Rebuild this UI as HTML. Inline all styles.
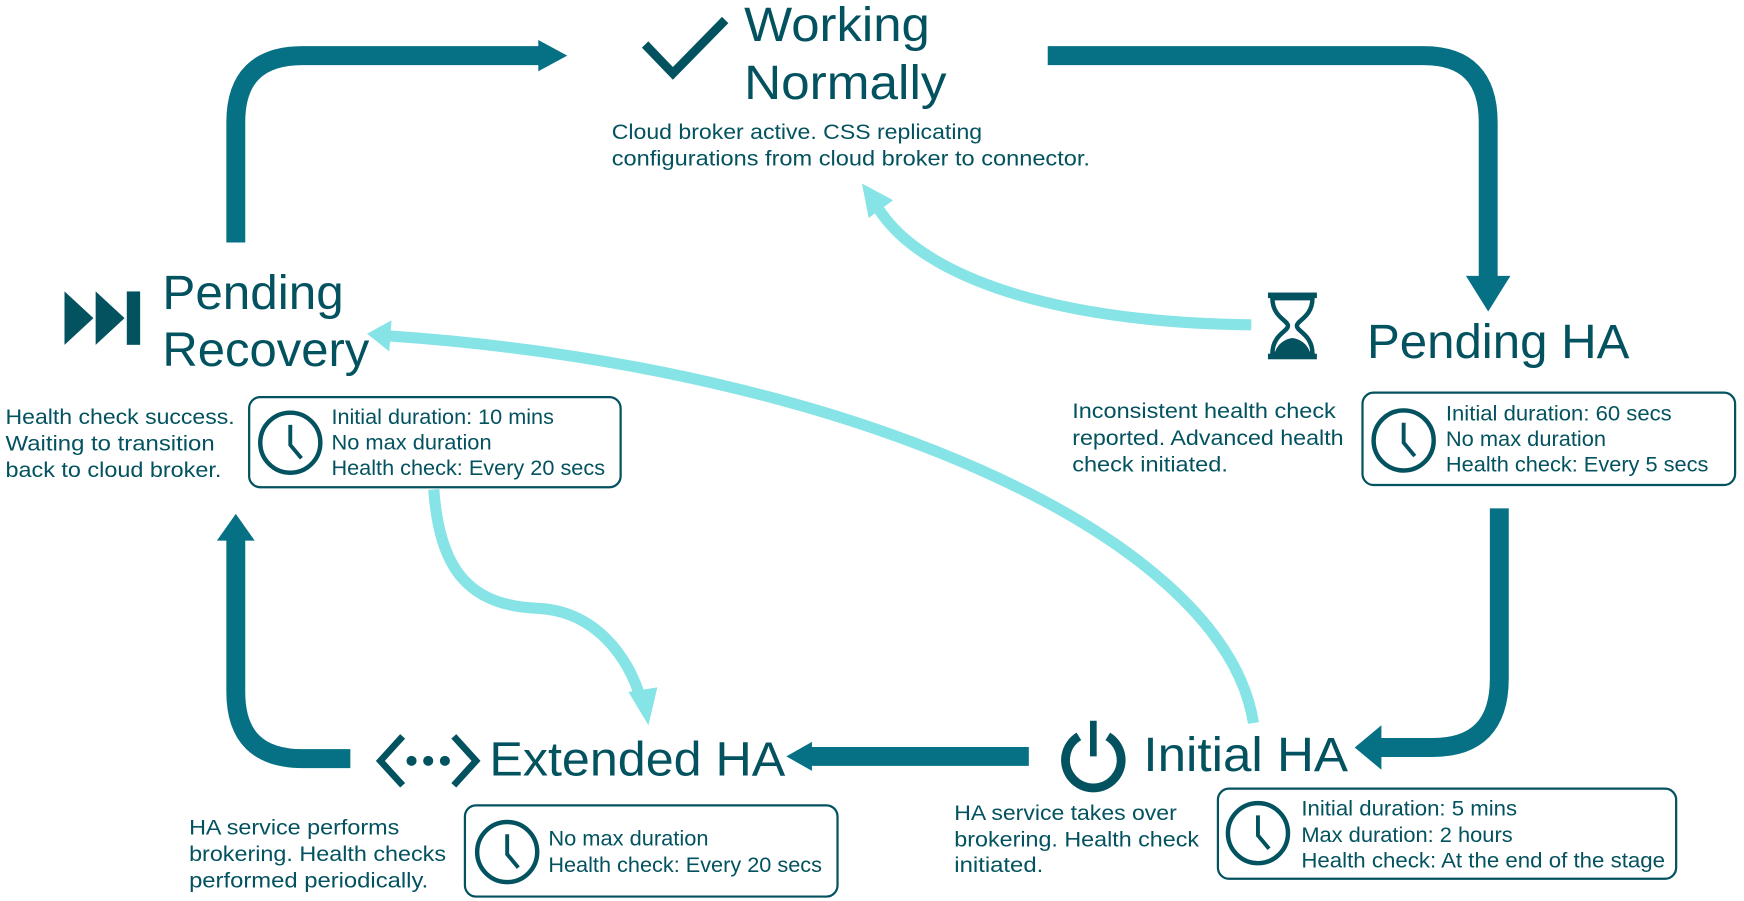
<!DOCTYPE html>
<html><head><meta charset="utf-8"><style>
html,body{margin:0;padding:0;background:#fff;}
svg{display:block}
text{font-family:"Liberation Sans",sans-serif;fill:#03525f}
.t{font-size:43px}
.b{font-size:19.5px}
</style></head><body>
<svg width="1744" height="901" viewBox="0 0 1568 810" preserveAspectRatio="none" xmlns="http://www.w3.org/2000/svg">
<rect width="1568" height="810" fill="#fff"/>
<g fill="none" stroke="#067185" stroke-width="17">
<path d="M212,218 L212,110 Q212,50 272,50 L488,50"/>
<path d="M942,50 L1280,50 Q1338,50 1338,110 L1338,250"/>
<path d="M1348,457 L1348,610 Q1348,672 1288,672 L1240,672"/>
<path d="M925,680 L728,680"/>
<path d="M315,682 L272,682 Q212,682 212,622 L212,482"/>
</g>
<g fill="#067185">
<polygon points="484,36 510,50 484,64"/>
<polygon points="1318,248 1358,248 1338,280"/>
<polygon points="1242,652 1242,692 1218,672"/>
<polygon points="730,667 730,693 707,680"/>
<polygon points="195,486 229,486 212,462"/>
</g>
<g fill="none" stroke="#86e3e6" stroke-width="10">
<path d="M1125,292 C950,290 830,250 790,188"/>
<path d="M1127,650 C1100,480 760,330 350,302"/>
<path d="M390,440 C395,510 420,545 485,547 C535,550 565,590 576,628"/>
</g>
<g fill="#86e3e6">
<polygon points="775,165 803,180 781,196"/>
<polygon points="330,300 352,288 350,316"/>
<polygon points="583,652 565,622 591,618"/>
</g>
<polyline points="580,40 605,66 652,18" fill="none" stroke="#03525f" stroke-width="8"/>
<g fill="#03525f">
<polygon points="58,262 84,286 58,310"/>
<polygon points="86,262 112,286 86,310"/>
<rect x="114" y="262" width="12" height="48"/>
</g>
<g>
<rect x="1140" y="263" width="44" height="5" fill="#03525f"/>
<rect x="1140" y="318" width="44" height="5" fill="#03525f"/>
<path d="M1144,268 C1144,285 1158,288 1158,293 C1158,298 1144,301 1144,318 L1180,318 C1180,301 1166,298 1166,293 C1166,288 1180,285 1180,268 Z" fill="#fff" stroke="#03525f" stroke-width="4"/>
<path d="M1146,318 C1148,308 1158,304 1162,304 C1166,304 1176,308 1178,318 Z" fill="#03525f"/>
</g>
<g fill="none" stroke="#03525f" stroke-width="8">
<path d="M970,662 A25,25 0 1 0 996,662"/>
<line x1="983" y1="648" x2="983" y2="680" stroke-width="6"/>
<polyline points="362,662 342,684 362,706" stroke-width="6"/>
<polyline points="408,662 428,684 408,706" stroke-width="6"/>
</g>
<g fill="#03525f"><circle cx="370" cy="684" r="4.5"/><circle cx="385" cy="684" r="4.5"/><circle cx="400" cy="684" r="4.5"/></g>
<g fill="none" stroke="#03525f" stroke-width="2">
<rect x="224" y="357" width="334" height="81" rx="10"/>
<rect x="1225" y="353" width="335" height="83" rx="10"/>
<rect x="1095" y="709" width="412" height="81" rx="10"/>
<rect x="418" y="724" width="335" height="82" rx="10"/>
</g>
<g fill="none" stroke="#03525f" stroke-width="4">
<g transform="translate(261,398)"><circle r="27"/><polyline points="0,-16 0,2 10,14" stroke-width="3.5"/></g>
<g transform="translate(1262,396)"><circle r="27"/><polyline points="0,-16 0,2 10,14" stroke-width="3.5"/></g>
<g transform="translate(1131,749)"><circle r="27"/><polyline points="0,-16 0,2 10,14" stroke-width="3.5"/></g>
<g transform="translate(456,766)"><circle r="27"/><polyline points="0,-16 0,2 10,14" stroke-width="3.5"/></g>
</g>
<text class="t" x="669" y="37" textLength="167" lengthAdjust="spacingAndGlyphs">Working</text>
<text class="t" x="669" y="89" textLength="182" lengthAdjust="spacingAndGlyphs">Normally</text>
<text class="t" x="146" y="278" textLength="163" lengthAdjust="spacingAndGlyphs">Pending</text>
<text class="t" x="146" y="329" textLength="186" lengthAdjust="spacingAndGlyphs">Recovery</text>
<text class="t" x="1229" y="322" textLength="236" lengthAdjust="spacingAndGlyphs">Pending HA</text>
<text class="t" x="1028" y="693" textLength="184" lengthAdjust="spacingAndGlyphs">Initial HA</text>
<text class="t" x="440" y="697" textLength="266" lengthAdjust="spacingAndGlyphs">Extended HA</text>
<text class="b" x="550" y="125" textLength="333" lengthAdjust="spacingAndGlyphs">Cloud broker active. CSS replicating</text>
<text class="b" x="550" y="149" textLength="430" lengthAdjust="spacingAndGlyphs">configurations from cloud broker to connector.</text>
<text class="b" x="5" y="381" textLength="206" lengthAdjust="spacingAndGlyphs">Health check success.</text>
<text class="b" x="5" y="405" textLength="188" lengthAdjust="spacingAndGlyphs">Waiting to transition</text>
<text class="b" x="5" y="429" textLength="194" lengthAdjust="spacingAndGlyphs">back to cloud broker.</text>
<text class="b" x="298" y="381" textLength="200" lengthAdjust="spacingAndGlyphs">Initial duration: 10 mins</text>
<text class="b" x="298" y="404" textLength="144" lengthAdjust="spacingAndGlyphs">No max duration</text>
<text class="b" x="298" y="427" textLength="246" lengthAdjust="spacingAndGlyphs">Health check: Every 20 secs</text>
<text class="b" x="964" y="376" textLength="237" lengthAdjust="spacingAndGlyphs">Inconsistent health check</text>
<text class="b" x="964" y="400" textLength="244" lengthAdjust="spacingAndGlyphs">reported. Advanced health</text>
<text class="b" x="964" y="424" textLength="140" lengthAdjust="spacingAndGlyphs">check initiated.</text>
<text class="b" x="1300" y="378" textLength="203" lengthAdjust="spacingAndGlyphs">Initial duration: 60 secs</text>
<text class="b" x="1300" y="401" textLength="144" lengthAdjust="spacingAndGlyphs">No max duration</text>
<text class="b" x="1300" y="424" textLength="236" lengthAdjust="spacingAndGlyphs">Health check: Every 5 secs</text>
<text class="b" x="858" y="737" textLength="200" lengthAdjust="spacingAndGlyphs">HA service takes over</text>
<text class="b" x="858" y="761" textLength="220" lengthAdjust="spacingAndGlyphs">brokering. Health check</text>
<text class="b" x="858" y="784" textLength="80" lengthAdjust="spacingAndGlyphs">initiated.</text>
<text class="b" x="1170" y="733" textLength="194" lengthAdjust="spacingAndGlyphs">Initial duration: 5 mins</text>
<text class="b" x="1170" y="757" textLength="190" lengthAdjust="spacingAndGlyphs">Max duration: 2 hours</text>
<text class="b" x="1170" y="780" textLength="327" lengthAdjust="spacingAndGlyphs">Health check: At the end of the stage</text>
<text class="b" x="170" y="750" textLength="189" lengthAdjust="spacingAndGlyphs">HA service performs</text>
<text class="b" x="170" y="774" textLength="231" lengthAdjust="spacingAndGlyphs">brokering. Health checks</text>
<text class="b" x="170" y="798" textLength="215" lengthAdjust="spacingAndGlyphs">performed periodically.</text>
<text class="b" x="493" y="760" textLength="144" lengthAdjust="spacingAndGlyphs">No max duration</text>
<text class="b" x="493" y="784" textLength="246" lengthAdjust="spacingAndGlyphs">Health check: Every 20 secs</text>
</svg>
</body></html>
